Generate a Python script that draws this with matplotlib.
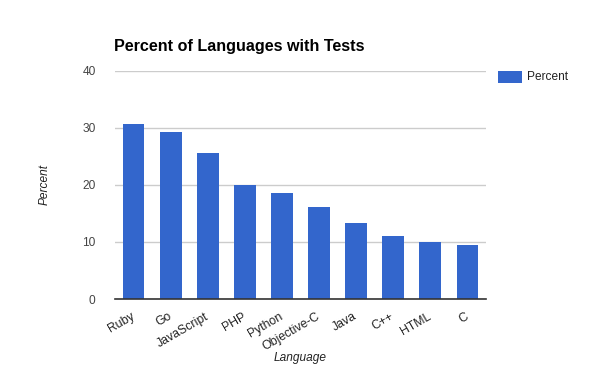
import matplotlib
matplotlib.use("Agg")
import matplotlib.pyplot as plt
from matplotlib.patches import Rectangle

languages = ["Ruby", "Go", "JavaScript", "PHP", "Python", "Objective-C", "Java", "C++", "HTML", "C"]
percent = [30.7, 29.3, 25.6, 20.0, 18.6, 16.1, 13.3, 11.05, 10.0, 9.47]
yticks = [0, 10, 20, 30, 40]

plt.rcParams['font.family'] = ['Liberation Sans', 'DejaVu Sans']

fig = plt.figure(figsize=(6, 3.71), dpi=100)
ax = fig.add_axes([115/600, 1-299/371, (486-115)/600, (299-71)/371])

x = list(range(len(languages)))
ax.bar(x, percent, width=0.59, color='#3366CC', zorder=3)
ax.set_xlim(-0.5, len(languages)-0.5)
ax.set_ylim(0, 40)
ax.set_yticks(yticks)
ax.set_yticklabels([str(v) for v in yticks], color='#444444', fontsize=8.6)
ax.yaxis.grid(True, color='#cccccc', linewidth=1, zorder=0)
ax.tick_params(axis='y', length=0, pad=14)
ax.tick_params(axis='x', length=0, pad=12)
ax.set_xticks(x)
ax.set_xticklabels(languages, rotation=30, ha='right', va='center', rotation_mode='anchor',
                   color='#222222', fontsize=8.8)
for s in ['top', 'right', 'left']:
    ax.spines[s].set_visible(False)
ax.spines['bottom'].set_color('#333333')
ax.spines['bottom'].set_linewidth(1.2)
ax.spines['bottom'].set_zorder(4)

fig.text(114/600, 1-46/371, "Percent of Languages with Tests", fontsize=11.6, fontweight='bold',
         ha='left', va='center', color='#000000')
fig.text(45/600, 1-185/371, "Percent", fontsize=8.6, style='italic', rotation=90,
         ha='center', va='center', color='#222222')
fig.text(300/600, 1-358/371, "Language", fontsize=8.6, style='italic',
         ha='center', va='center', color='#222222')

# legend
fig.patches.append(Rectangle((498/600, 1-83/371), 24/600, 12/371, transform=fig.transFigure,
                             facecolor='#3366CC', edgecolor='none'))
fig.text(527/600, 1-77/371, "Percent", fontsize=8.6, ha='left', va='center', color='#222222')

fig.savefig("out.png", dpi=100)
